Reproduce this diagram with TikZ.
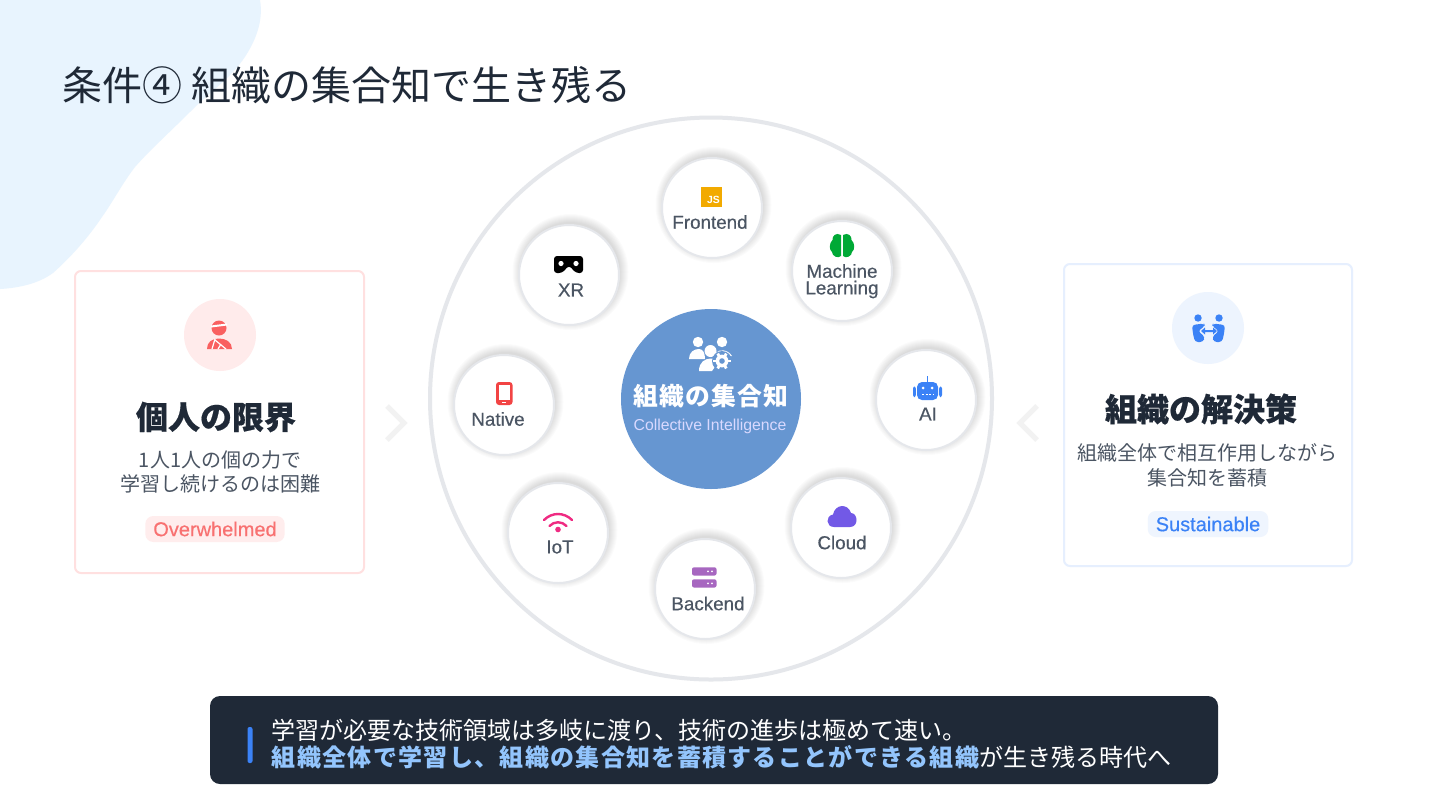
\documentclass[tikz,border=0pt]{standalone}
\usepackage{fontspec}
\setmainfont{Liberation Sans}
\newfontfamily\jp[BoldFeatures={FakeBold=0.5}]{Noto Sans CJK JP}
\newfontfamily\jpsp[LetterSpace=5.5]{Noto Sans CJK JP}
\newfontfamily\lab[FakeBold=0.4]{Liberation Sans}
\newfontfamily\labb{Liberation Sans}
\definecolor{ink}{HTML}{1F2937}
\definecolor{body}{HTML}{4B5563}
\definecolor{blob}{HTML}{E8F4FE}
\definecolor{ring}{HTML}{E5E7EB}
\definecolor{redc}{HTML}{F87171}
\definecolor{bluec}{HTML}{3B82F6}
\definecolor{lightblue}{HTML}{93C5FD}
\newcommand{\fsz}[1]{\fontsize{#1}{#1}\selectfont}
\newcommand{\softshadow}[1]{%
  \foreach \r in {50,51,...,58}{\fill[black,opacity=.016] ($(#1)+(1.5,-3)$) circle (\r);}}
\usetikzlibrary{calc}
\tikzset{
  cardbox/.style={draw=#1,line width=1pt,fill=white,rounded corners=3pt},
  sat/.style={circle,draw=ring,line width=1pt,fill=white,minimum size=50pt,inner sep=0pt},
  satlabel/.style={font=\lab\fsz{9.4},text=body,align=center,inner sep=0pt},
  cardtitle/.style={font=\jp\bfseries\fsz{16},text=ink,inner sep=0pt},
  cardbody/.style={font=\jp\fsz{10},text=body,inner sep=0pt},
  badge/.style={font=\lab\fsz{10},rounded corners=4pt,inner xsep=4pt,inner ysep=0pt,minimum height=13pt},
  chev/.style={draw=#1,line width=2.5pt,line cap=butt,line join=miter},
  iconcirc/.style={circle,fill=#1,minimum size=36pt,inner sep=0pt},
}
\begin{document}
\begin{tikzpicture}[x=.5pt,y=-.5pt]
\useasboundingbox (0,0) rectangle (1440,810);
\fill[white] (0,0) rectangle (1440,810);
% blob
\fill[blob] (0,0) -- (260,0) .. controls (263,18) and (258,35) .. (248,52)
  .. controls (234,76) and (212,90) .. (192,110)
  .. controls (170,132) and (150,150) .. (135,167)
  .. controls (122,184) and (114,200) .. (102,217)
  .. controls (88,238) and (70,258) .. (53,273)
  .. controls (38,284) and (18,288) .. (0,289) -- cycle;
% title
\node[anchor=west,font=\jp\fsz{20},text=ink,inner sep=0pt] (title) at (62,85) {条件④ 組織の集合知で生き残る};

% left card
\node[cardbox=red!12!white,minimum width=144.5pt,minimum height=151pt,inner sep=0pt] (lcard) at (219.5,422) {};
\node[iconcirc=red!8!white] (licon) at (220,335) {};
\fill[redc!85!red] (219,328) circle (7.5);
\fill[white] (211,325.5) -- (227,323.5) -- (227,325.5) -- (211,327.5) -- cycle;
\fill[redc!85!red] (207,349) .. controls (207,342) and (212,338.5) .. (219,338.5) .. controls (226,338.5) and (232,342) .. (232,349) -- cycle;
\draw[white,line width=.6pt] (212,349) -- (215,339) (215,340) -- (226,349) (218,349) -- (221,344);
\node[cardtitle] (ltitle) at (216,417) {個人の限界};
\node[cardbody] (lb1) at (220,460) {1人1人の個の力で};
\node[cardbody] (lb2) at (220,484) {学習し続けるのは困難};
\node[badge,fill=red!7!white,text=redc] (lbadge) at (215,529) {Overwhelmed};

% right card
\node[cardbox=bluec!13!white,minimum width=144pt,minimum height=151pt,inner sep=0pt] (rcard) at (1208,415) {};
\node[iconcirc=bluec!9!white] (ricon) at (1208,328) {};
\fill[bluec] (1198,318) circle (3.7) (1219,318) circle (3.7);
\fill[bluec,rounded corners=1.5pt] (1192,325) -- (1204,323.5) -- (1205,326) -- (1198,331) -- (1205,337) -- (1203,342) -- (1195,342) -- (1193,334) -- cycle;
\fill[bluec,rounded corners=1.5pt] (1225,325) -- (1213,323.5) -- (1212,326) -- (1219,331) -- (1212,337) -- (1214,342) -- (1222,342) -- (1224,334) -- cycle;
\fill[bluec] (1201,331) -- (1205,327.5) -- (1205,330) -- (1213,330) -- (1213,327.5) -- (1217,331) -- (1213,334.5) -- (1213,332) -- (1205,332) -- (1205,334.5) -- cycle;
\node[cardtitle] (rtitle) at (1201,409) {組織の解決策};
\node[cardbody] (rb1) at (1207,453) {組織全体で相互作用しながら};
\node[cardbody] (rb2) at (1207,478) {集合知を蓄積};
\node[badge,fill=bluec!8!white,text=bluec] (rbadge) at (1208,524) {Sustainable};

% chevrons
\draw[chev=black!5] (387,406) -- (404,423) -- (387,440);
\draw[chev=black!5] (1037,406) -- (1020,423) -- (1037,440);

% big ring
\node[circle,draw=ring,line width=2pt,fill=white,minimum size=281pt,inner sep=0pt] (ringc) at (711,398.5) {};

% satellites
\coordinate (pfe) at (712,208);
\coordinate (pml) at (842,271);
\coordinate (pai) at (926,400);
\coordinate (pcl) at (841,528);
\coordinate (pbe) at (705,589);
\coordinate (pio) at (558,533);
\coordinate (pna) at (504,405);
\coordinate (pxr) at (569,275);
\foreach \p in {pfe,pml,pai,pcl,pbe,pio,pna,pxr}{\softshadow{\p}}
\node[sat] (fe) at (pfe) {};
\node[sat] (ml) at (pml) {};
\node[sat] (ai) at (pai) {};
\node[sat] (cl) at (pcl) {};
\node[sat] (be) at (pbe) {};
\node[sat] (io) at (pio) {};
\node[sat] (na) at (pna) {};
\node[sat] (xr) at (pxr) {};

% JS
\fill[orange!60!yellow!95!black] (701,187) rectangle (722,206.5);
\fill[white] (701,187) rectangle (701,187);
\node[font=\labb\bfseries\fsz{5.2},text=white,inner sep=0pt] (js) at (713.5,200) {JS};
\node[satlabel] (lfe) at (710,222) {Frontend};
% brain
\fill[green!55!black!40!teal!70!green] (841,235) .. controls (836,232) and (832,236) .. (832.5,240) .. controls (829,243) and (829,250) .. (832,252) .. controls (832,256) and (838,259) .. (841,256) -- cycle;
\fill[green!55!black!40!teal!70!green] (843,235) .. controls (848,232) and (852,236) .. (851.5,240) .. controls (855,243) and (855,250) .. (852,252) .. controls (852,256) and (846,259) .. (843,256) -- cycle;
\node[satlabel] (lml1) at (842,271) {Machine};
\node[satlabel] (lml2) at (842,289.5) {Learning};
% VR
\fill[black,rounded corners=1.5pt] (554,256) -- (583,256) -- (583,273) -- (576,273) -- (569,265.5) -- (562,273) -- (554,273) -- cycle;
\fill[white] (561,263.5) circle (2.6) (576,263.5) circle (2.6);
\node[satlabel] (lxr) at (571,290) {XR};
% phone
\fill[red!72!white!95!black,rounded corners=1.5pt] (496,382) rectangle (512.5,405);
\fill[white] (498.5,385) rectangle (510,399.5);
\fill[white] (502,401.5) rectangle (506,403);
\node[satlabel] (lna) at (498,419) {Native};
% robot
\fill[bluec] (926.5,376) rectangle (928,384);
\fill[bluec,rounded corners=2.5pt] (917,382) rectangle (938,400);
\fill[bluec,rounded corners=1pt] (913,386.5) rectangle (915.8,397) (939.2,386.5) rectangle (942,397);
\fill[white] (923,388) circle (1.5) (932,388) circle (1.5);
\draw[white,line width=.5pt,dash pattern=on 1pt off .8pt] (922,394.5) -- (933,394.5);
\node[satlabel] (lai) at (928,414) {AI};
% cloud
\fill[violet!30!blue!65!white] (834,527) .. controls (826,527) and (825,516) .. (833,514.5) .. controls (835,504) and (848,503) .. (851,513) .. controls (858,513) and (859,527) .. (850,527) -- cycle;
\node[satlabel] (lcl) at (842,542.5) {Cloud};
% server
\fill[violet!55!white!90!blue,rounded corners=1pt] (692,567.3) rectangle (716.5,575.5);
\fill[violet!55!white!90!blue,rounded corners=1pt] (692,579.3) rectangle (716.5,587.5);
\fill[white] (708,571.4) circle (1) (712,571.4) circle (1) (708,583.4) circle (1) (712,583.4) circle (1);
\node[satlabel] (lbe) at (708,603.5) {Backend};
% wifi
\draw[magenta!75!red!85!white,line width=1.2pt,line cap=round] (544,520) .. controls (552,512) and (564,512) .. (572,520);
\draw[magenta!75!red!85!white,line width=1.2pt,line cap=round] (549.5,526) .. controls (554,521) and (562,521) .. (566.5,526);
\fill[magenta!75!red!85!white] (558,529.5) circle (2.8);
\node[satlabel] (lio) at (560,547) {IoT};

% center
\node[circle,fill=blue!55!cyan!70!black!60!white,minimum size=90pt,inner sep=0pt] (core) at (711,399) {};
\fill[white] (698,342) circle (5.2) (722,342) circle (5.2);
\fill[white] (689,359) .. controls (689,352) and (694,349) .. (699,349) .. controls (703,349) and (705,353) .. (705,359) -- cycle;
\fill[white] (716,353) .. controls (718,349) and (728,349) .. (732,356) -- (716,356) -- cycle;
\fill[white] (710.5,351) circle (6);
\fill[white] (699,371) .. controls (699,362) and (705,358.5) .. (711,358.5) .. controls (715,358.5) and (717,359) .. (719,361) -- (712,371) -- cycle;
\fill[blue!55!cyan!70!black!60!white] (722,361) circle (10);
\foreach \a in {0,60,...,300}{\draw[white,line width=1.4pt] ($(722,361)+(\a:4)$) -- ($(722,361)+(\a:8.6)$);}
\fill[white] (722,361) circle (6.4);
\fill[blue!55!cyan!70!black!60!white] (722,361) circle (2.8);
\node[font=\jpsp\bfseries\fsz{12.4},text=white,inner sep=0pt] (coret) at (711,396) {組織の集合知};
\node[font=\labb\fsz{7.9},text=white!85!blue,inner sep=0pt] (cores) at (710,426.5) {Collective Intelligence};

% bottom bar
\node[fill=ink,rounded corners=5pt,minimum width=504pt,minimum height=44pt,inner sep=0pt] (bar) at (714,740) {};
\fill[bluec,rounded corners=1pt] (247.5,727) rectangle (252.5,763);
\node[anchor=west,font=\jp\fsz{12},text=white,inner sep=0pt] (bl1) at (271.5,730) {学習が必要な技術領域は多岐に渡り、技術の進歩は極めて速い。};
\node[anchor=west,font=\jp\fsz{12},text=white,inner sep=0pt] (bl2) at (271.5,757) {{\color{lightblue}\jpsp\bfseries 組織全体で学習し、組織の集合知を蓄積することができる組織}が生き残る時代へ};
\end{tikzpicture}
\end{document}
